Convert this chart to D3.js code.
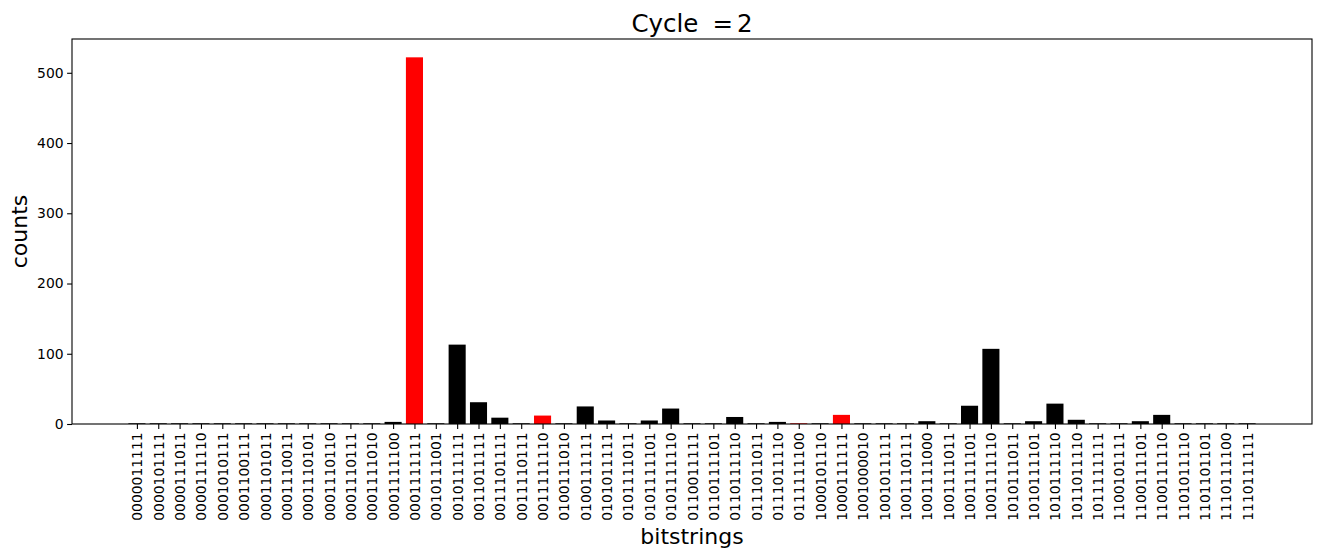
<!DOCTYPE html>
<html>
<head>
<meta charset="utf-8">
<script src="https://cdn.jsdelivr.net/npm/d3@7"></script>
<style>
  body { margin: 0; background: #fff; }
  svg text { font-family: "DejaVu Sans", sans-serif; }
</style>
</head>
<body>
<div id="chart"></div>
<script>
// bitstrings measured in cycle 2
var bitstrings = ["0000011111","0000101111","0000111011","0000111110","0001010111","0001100111",
  "0001101011","0001110011","0001110101","0001110110","0001110111","0001111010","0001111100",
  "0001111111","0010111001","0010111111","0011011111","0011101111","0011110111","0011111110",
  "0100111010","0100111111","0101011111","0101111011","0101111101","0101111110","0110011111",
  "0110111101","0110111110","0111011011","0111011110","0111111100","1000101110","1000111111",
  "1001000010","1001011111","1001110111","1001111000","1001111011","1001111101","1001111110",
  "1010111011","1010111101","1010111110","1011011110","1011111111","1100101111","1100111101",
  "1100111110","1101011110","1101101101","1110111100","1110111111"];
var counts = [1,1,1,1,1,1,1,1,1,1,1,1,3,522,1,113,31,9,1,12,1,25,5,1,5,22,1,1,10,1,3,1,1,13,
  1,1,1,4,1,26,107,1,4,29,6,1,1,4,13,1,1,1,1];
// highlighted (red) bitstrings
var marked = ["0001111111","0011111110","0111111100","1000111111"];
var yTicks = [0,100,200,300,400,500];

var svgW = 1321, svgH = 558;
var mLeft = 72, mRight = 1312, mTop = 39, mBottom = 424;
var barW = 0.8;

var svg = d3.select("#chart").append("svg").attr("width", svgW).attr("height", svgH);

var n = bitstrings.length;
var pad = (n - 1 + barW) * 0.05;
var x = d3.scaleLinear().domain([-barW/2 - pad, n - 1 + barW/2 + pad]).range([mLeft, mRight]);
var y = d3.scaleLinear().domain([0, d3.max(counts) * 1.05]).range([mBottom, mTop]);

svg.selectAll("rect.bar")
  .data(counts)
  .enter()
  .append("rect")
  .attr("class", "bar")
  .attr("x", (d, i) => x(i - barW/2))
  .attr("width", x(barW) - x(0))
  .attr("y", d => y(d))
  .attr("height", d => y(0) - y(d))
  .attr("fill", (d, i) => marked.includes(bitstrings[i]) ? "#ff0000" : "#000000");

// x axis
var xAxis = d3.axisBottom(x)
  .tickValues(d3.range(n))
  .tickFormat(i => bitstrings[i])
  .tickSize(4.9).tickPadding(3.5);
var gx = svg.append("g").attr("transform", "translate(0," + mBottom + ")").call(xAxis);
gx.select(".domain").remove();
gx.selectAll("line").attr("stroke", "#000").attr("stroke-width", 1.1);
gx.selectAll("text")
  .attr("font-size", 13.9)
  .attr("fill", "#000")
  .attr("text-anchor", "end")
  .attr("dy", null)
  .attr("x", 0).attr("y", 0)
  .attr("transform", "translate(0,8.4) rotate(-90)")
  .attr("dominant-baseline", "central");

// y axis
var yAxis = d3.axisLeft(y).tickValues(yTicks).tickSize(4.9).tickPadding(3.5);
var gy = svg.append("g").attr("transform", "translate(" + mLeft + ",0)").call(yAxis);
gy.select(".domain").remove();
gy.selectAll("line").attr("stroke", "#000").attr("stroke-width", 1.1);
gy.selectAll("text").attr("font-size", 13.9).attr("fill", "#000");

// frame
svg.append("rect")
  .attr("x", mLeft).attr("y", mTop)
  .attr("width", mRight - mLeft).attr("height", mBottom - mTop)
  .attr("fill", "none").attr("stroke", "#000").attr("stroke-width", 1.1);

// title
var title = svg.append("text")
  .attr("x", (mLeft + mRight) / 2).attr("y", 32)
  .attr("text-anchor", "middle")
  .attr("font-size", 24.5);
title.append("tspan").text("Cycle");
title.append("tspan").attr("dx", 14).text("=");
title.append("tspan").attr("dx", 4).text("2");

// axis labels
svg.append("text")
  .attr("x", (mLeft + mRight) / 2).attr("y", 544)
  .attr("text-anchor", "middle")
  .attr("font-size", 22)
  .text("bitstrings");

svg.append("text")
  .attr("transform", "translate(27," + ((mTop + mBottom) / 2) + ") rotate(-90)")
  .attr("text-anchor", "middle")
  .attr("font-size", 22)
  .text("counts");
</script>
</body>
</html>
